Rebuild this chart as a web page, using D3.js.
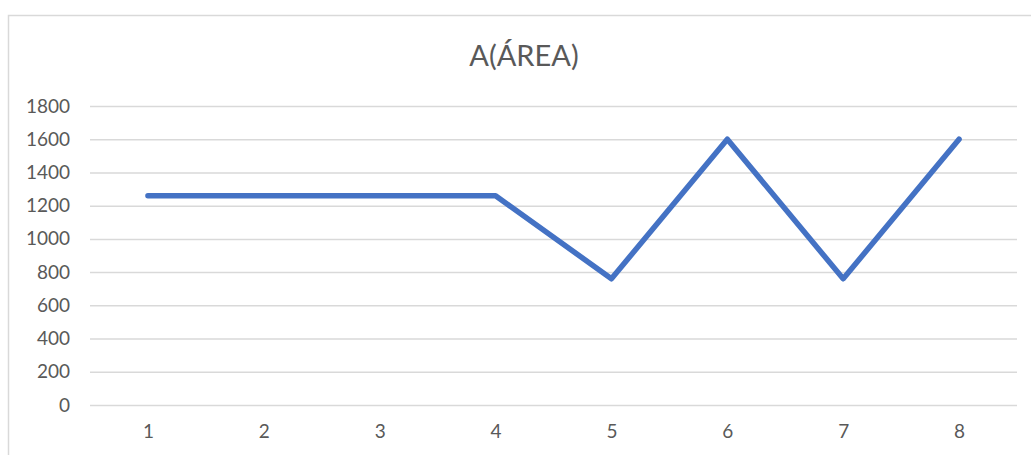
<!DOCTYPE html>
<html>
<head>
<meta charset="utf-8">
<script src="https://cdn.jsdelivr.net/npm/d3@7"></script>
<style>
  body { margin: 0; background: #fff; }
  svg { display: block; }
</style>
</head>
<body>
<div id="chart"></div>
<script>
// data
const categories = ["1", "2", "3", "4", "5", "6", "7", "8"];
const areaValues = [1260, 1260, 1260, 1260, 760, 1600, 760, 1600];
const yTicks = [0, 200, 400, 600, 800, 1000, 1200, 1400, 1600, 1800];
const chartTitle = "A(ÁREA)";

const svg_width = 1031, svg_height = 455;
const margin = { top: 106, right: 14, bottom: 50, left: 90 };
const plot_w = svg_width - margin.left - margin.right;
const plot_h = svg_height - margin.top - margin.bottom;

const svg = d3.select("#chart").append("svg")
    .attr("width", svg_width)
    .attr("height", svg_height);

// outer chart frame (only top and left edges are in view)
svg.append("rect")
    .attr("x", 8.5).attr("y", 15.5)
    .attr("width", 1100).attr("height", 600)
    .attr("fill", "none")
    .attr("stroke", "#d9d9d9")
    .attr("stroke-width", 1.5);

svg.append("text")
    .attr("x", 524)
    .attr("y", 66)
    .attr("text-anchor", "middle")
    .style("font-family", "Lato, 'Open Sans', sans-serif")
    .style("font-size", "29px")
    .style("fill", "#595959")
    .text(chartTitle);

const chart = svg.append("g")
    .attr("transform", "translate(" + margin.left + "," + margin.top + ")");

const xScale = d3.scalePoint().domain(categories).range([0, plot_w]).padding(0.5);
const yScale = d3.scaleLinear().domain([0, 1800]).range([plot_h, 0]);

// gridlines
chart.append("g")
    .attr("class", "grid")
    .call(d3.axisLeft(yScale).tickValues(yTicks).tickSize(-plot_w).tickFormat(""))
    .call(g => g.select(".domain").remove())
    .call(g => g.selectAll("line").attr("stroke", "#d9d9d9").attr("stroke-width", 1.5));

// y axis labels
chart.append("g")
    .attr("id", "y-axis")
    .call(d3.axisLeft(yScale).tickValues(yTicks).tickFormat(d3.format("d")).tickSize(0).tickPadding(20))
    .call(g => g.select(".domain").remove())
    .call(g => g.selectAll("text")
        .style("font-family", "Lato, 'Open Sans', sans-serif")
        .style("font-size", "19px")
        .style("fill", "#595959"));

// x axis labels
chart.append("g")
    .attr("id", "x-axis")
    .attr("transform", "translate(0," + plot_h + ")")
    .call(d3.axisBottom(xScale).tickSize(0).tickPadding(20))
    .call(g => g.select(".domain").remove())
    .call(g => g.selectAll("text")
        .style("font-family", "Lato, 'Open Sans', sans-serif")
        .style("font-size", "19px")
        .style("fill", "#595959"));

const line = d3.line()
    .x((d, i) => xScale(categories[i]))
    .y(d => yScale(d));

chart.append("path")
    .datum(areaValues)
    .attr("d", line)
    .attr("fill", "none")
    .attr("stroke", "#4472c4")
    .attr("stroke-width", 5.5)
    .attr("stroke-linejoin", "round")
    .attr("stroke-linecap", "round");
</script>
</body>
</html>
